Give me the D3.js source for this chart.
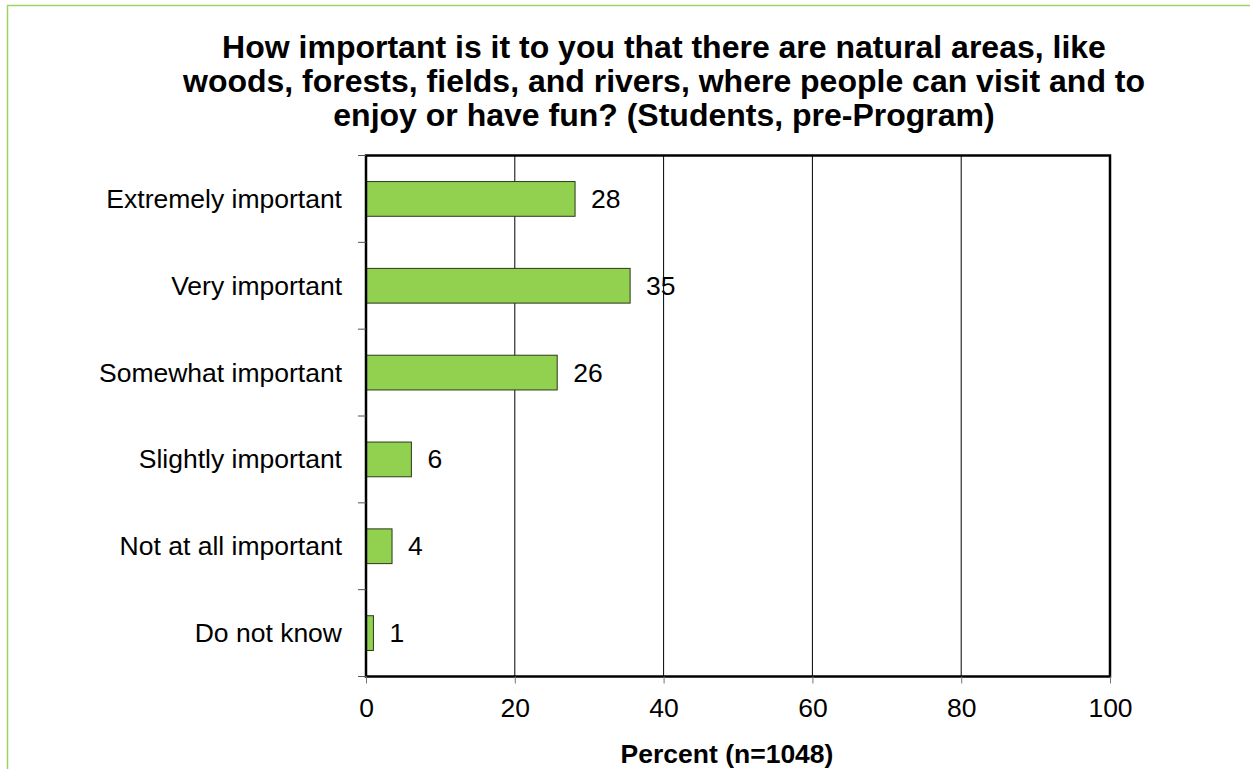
<!DOCTYPE html>
<html><head><meta charset="utf-8">
<script src="https://cdn.jsdelivr.net/npm/d3@7"></script>
<style>body{margin:0;background:#fff;} svg{display:block;font-family:"Liberation Sans",Arial,sans-serif;}</style>
</head><body>
<svg id="c" width="1250" height="769"></svg>
<script>
const categories = ["Extremely important","Very important","Somewhat important","Slightly important","Not at all important","Do not know"];
const values = [28.1, 35.5, 25.7, 6.1, 3.5, 1.0];
const valueLabels = ["28","35","26","6","4","1"];
const xTicks = [0,20,40,60,80,100];
const titleLines = ["How important is it to you that there are natural areas, like","woods, forests, fields, and rivers, where people can visit and to","enjoy or have fun? (Students, pre-Program)"];
const xTitle = "Percent (n=1048)";

const svg = d3.select("#c");
// frame
svg.append("path").attr("d","M7.5,769 L7.5,5.5 L1250,5.5").attr("fill","none").attr("stroke","#9bd464").attr("stroke-width",1.5);

const L=366, R=1110, T=155.5, B=676.5;
const x = d3.scaleLinear().domain([0,100]).range([L,R]);
const y = d3.scaleBand().domain(categories).range([T,B]).paddingInner(0.6).paddingOuter(0.3);
const yb = d3.scaleBand().domain(categories).range([T,B]);

// title
svg.append("g").selectAll("text").data(titleLines).join("text")
  .attr("x",664).attr("y",(d,i)=>57.5+i*34.3).attr("text-anchor","middle")
  .attr("font-size",32).attr("font-weight","bold").text(d=>d);

// gridlines
svg.append("g").selectAll("line").data(xTicks.slice(1,-1)).join("line")
  .attr("x1",d=>x(d)).attr("x2",d=>x(d)).attr("y1",T).attr("y2",B)
  .attr("stroke","#000").attr("stroke-width",1);

// bars
svg.append("g").selectAll("rect").data(categories).join("rect")
  .attr("x",x(0)).attr("y",d=>y(d)).attr("width",(d,i)=>x(values[i])-x(0)).attr("height",y.bandwidth())
  .attr("fill","#92d050").attr("stroke","#2a3a1a").attr("stroke-width",1);

// value labels
svg.append("g").selectAll("text").data(categories).join("text")
  .attr("x",(d,i)=>x(values[i])+16).attr("y",d=>y(d)+y.bandwidth()/2+9)
  .attr("font-size",26.5).text((d,i)=>valueLabels[i]);

// plot border
svg.append("rect").attr("x",L).attr("y",T).attr("width",R-L).attr("height",B-T)
  .attr("fill","none").attr("stroke","#000").attr("stroke-width",2.5);

// y ticks at band boundaries
const yTickPos = categories.map(c=>yb(c)).concat([B]);
svg.append("g").selectAll("line").data(yTickPos).join("line")
  .attr("x1",L-8).attr("x2",L).attr("y1",d=>d).attr("y2",d=>d).attr("stroke","#555").attr("stroke-width",1);
// category labels
svg.append("g").selectAll("text").data(categories).join("text")
  .attr("x",342).attr("y",d=>yb(d)+yb.bandwidth()/2+9).attr("text-anchor","end")
  .attr("font-size",26.5).text(d=>d);

// x axis
const xa = svg.append("g").attr("transform",`translate(0,${B})`)
  .call(d3.axisBottom(x).tickValues(xTicks).tickSize(7).tickPadding(15).tickFormat(d3.format("d")));
xa.select(".domain").remove();
xa.selectAll("line").attr("stroke","#777");
xa.selectAll("text").attr("font-size",26.5).attr("font-family","Liberation Sans, Arial, sans-serif").attr("fill","#000");

svg.append("text").attr("x",727).attr("y",763).attr("text-anchor","middle")
  .attr("font-size",26.5).attr("font-weight","bold").text(xTitle);
</script>
</body></html>
